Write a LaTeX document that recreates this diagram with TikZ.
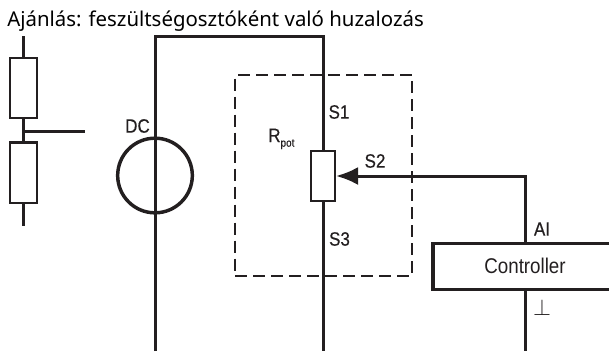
\documentclass[tikz,border=0pt]{standalone}
\usepackage{fontspec}
\setmainfont{Noto Sans}
\newfontfamily\labelfont[FakeStretch=0.88,FakeBold=0.4]{Liberation Sans}
\newfontfamily\boxfont[FakeStretch=0.88]{Liberation Sans}
\usetikzlibrary{arrows.meta}
\definecolor{wirecol}{HTML}{231F20}

\begin{document}
\begin{tikzpicture}[x=0.75pt,y=-0.75pt,line join=miter]

        \tikzstyle{wire}=[draw=wirecol,line width=2.25pt]
        \tikzstyle{frameline}=[draw=wirecol,line width=1.4pt,dash pattern=on 9pt off 4.5pt]
        \tikzstyle{resistor}=[draw=wirecol,fill=white,line width=2pt,inner sep=0pt]
        \tikzstyle{tag}=[text=wirecol,inner sep=0pt,font=\labelfont\fontsize{14.5}{16}\selectfont]

        \clip (0,0) rectangle (609,351);

        \node[inner sep=0pt,anchor=base west,font=\fontsize{15.3}{18}\selectfont] (title) at (7,26) {Ajánlás: feszültségosztóként való huzalozás};

        % divider on the left
        \node[resistor,minimum width=20.25pt,minimum height=45pt] (upper) at (23.5,88) {};
        \node[resistor,minimum width=20.25pt,minimum height=45.5pt] (lower) at (23.5,172.5) {};
        \coordinate (uppertop) at (23.5,36);
        \coordinate (lowerend) at (23.5,226);
        \coordinate (tap) at (23.5,131);
        \coordinate (tapend) at (85,131);
        \draw[wire] (uppertop) -- (upper.north);
        \draw[wire] (upper.south) -- (lower.north);
        \draw[wire] (lower.south) -- (lowerend);
        \draw[wire] (tap) -- (tapend);

        % dashed frame goes under the wires
        \node[frameline,draw,inner sep=0pt,minimum width=132.5pt,minimum height=150.75pt] (frame) at (323.75,175.5) {};

        % supply
        \node[draw=wirecol,line width=2.6pt,circle,inner sep=0pt,minimum size=56pt] (dc) at (155,175.5) {};
        \coordinate (dcbottom) at (155,351);
        \coordinate (corner) at (155,36);
        \coordinate (right) at (323,36);
        \coordinate (potbottom) at (323,351);

        % potentiometer
        \node[resistor,line width=1.5pt,minimum width=18pt,minimum height=37.5pt] (pot) at (323,176) {};
        \draw[wire] (dcbottom) -- (corner) -- (right) -- (pot.north);
        \draw[wire] (pot.south) -- (potbottom);

        % controller
        \node[draw=wirecol,line width=2.6pt,fill=white,inner sep=0pt,minimum width=144pt,minimum height=34.5pt] (ctrl) at (529,266.5) {};
        \node[tag,font=\boxfont\fontsize{16}{16}\selectfont] (ctrltext) at (525,265.5) {Controller};
        \coordinate (ai) at (525,243);
        \coordinate (bend) at (525,176);
        \coordinate (gnd) at (525,290);
        \coordinate (gndend) at (525,351);
        \draw[wire] (gnd) -- (gndend);
        \draw[wire,-{Latex[length=16.5pt,width=13.5pt,sep=0pt]}] (ai) -- (bend) -- (pot.east);

        \node[tag] (s1) at (339,112) {S1};
        \node[tag] (s2) at (375,161) {S2};
        \node[tag] (s3) at (339.5,239) {S3};
        \node[tag] (ailabel) at (542,229) {AI};
        \node[tag] (dclabel) at (137.5,126) {DC};
        \node[tag,anchor=base west] (rpot) at (268,142) {R\raisebox{-3.5pt}{\fontsize{8.5}{9}\selectfont pot}};
        \node[tag,font=\fontsize{17}{17}\selectfont] (gndmark) at (542,307) {$\perp$};

\end{tikzpicture}
\end{document}
